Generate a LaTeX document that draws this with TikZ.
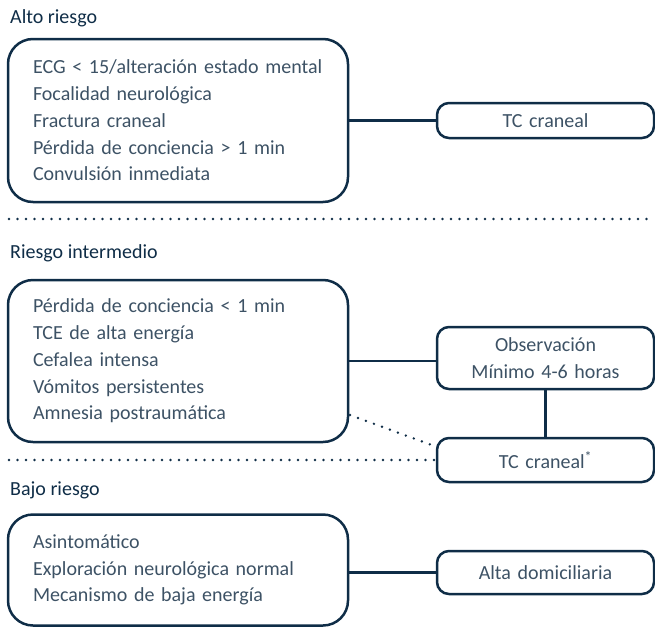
\documentclass[tikz,border=0pt]{standalone}
\usepackage{fontspec}
\setmainfont{Carlito}
\usepackage{tikz}

\definecolor{navy}{HTML}{0F2D47}
\definecolor{ink}{HTML}{3D5265}

\tikzset{
	riskbox/.style={draw=navy, line width=2.5pt, rounded corners=25pt, text width=290pt, inner xsep=25pt, inner ysep=0pt, align=left, text=ink, font=\fontsize{20}{26.75}\selectfont},
	actbox/.style={draw=navy, line width=2.5pt, rounded corners=12pt, text width=217pt, inner sep=0pt, align=center, text=ink, font=\fontsize{20}{26.75}\selectfont},
	heading/.style={anchor=west, inner sep=0pt, text=navy, font=\fontsize{20}{22}\selectfont},
	link/.style={draw=navy, line width=2.5pt},
	dots/.style={draw=navy, line width=2.7pt, line cap=round, dash pattern=on 0pt off 8.5pt}
}

\begin{document}
\begin{tikzpicture}[x=1pt,y=-1pt]

	\useasboundingbox (0,0) rectangle (655,629);

	\coordinate (s1a) at (9,219);
	\coordinate (s1b) at (653,219);
	\coordinate (s2a) at (9,460);
	\coordinate (dtop) at (350,415);

	\node[heading] (halto) at (10,18) {Alto riesgo};
	\node[heading] (hmedio) at (10,253) {Riesgo intermedio};
	\node[heading] (hbajo) at (10,490) {Bajo riesgo};

	\node[riskbox, minimum height=163pt] (alto) at (178,120.5) {ECG < 15/alteración estado mental\\Focalidad neurológica\\Fractura craneal\\Pérdida de conciencia > 1 min\\Convulsión inmediata};
	\node[riskbox, minimum height=162pt] (medio) at (178,361) {Pérdida de conciencia < 1 min\\TCE de alta energía\\Cefalea intensa\\Vómitos persistentes\\Amnesia postraumática};
	\node[riskbox, minimum height=111pt] (bajo) at (178,570) {Asintomático\\Exploración neurológica normal\\Mecanismo de baja energía};

	\node[actbox, minimum height=35pt] (tc1) at (545.5,120.5) {TC craneal};
	\node[actbox, minimum height=62pt] (obs) at (545.5,358) {Observación\\Mínimo 4-6 horas};
	\node[actbox, minimum height=44pt] (tc2) at (545.5,460) {TC craneal\textsuperscript{*}};
	\node[actbox, minimum height=43pt] (alta) at (545.5,572.5) {Alta domiciliaria};

	\draw[link] (alto.east) -- (tc1.west);
	\draw[link] (medio.east) -- (medio.east -| obs.west);
	\draw[link] (obs.south) -- (tc2.north);
	\draw[link] (bajo.east |- alta.west) -- (alta.west);

	\draw[dots] (s1a) -- (s1b);
	\draw[dots] (s2a) -- (tc2.west);
	\draw[dots] (dtop) -- (tc2.173);

\end{tikzpicture}
\end{document}
